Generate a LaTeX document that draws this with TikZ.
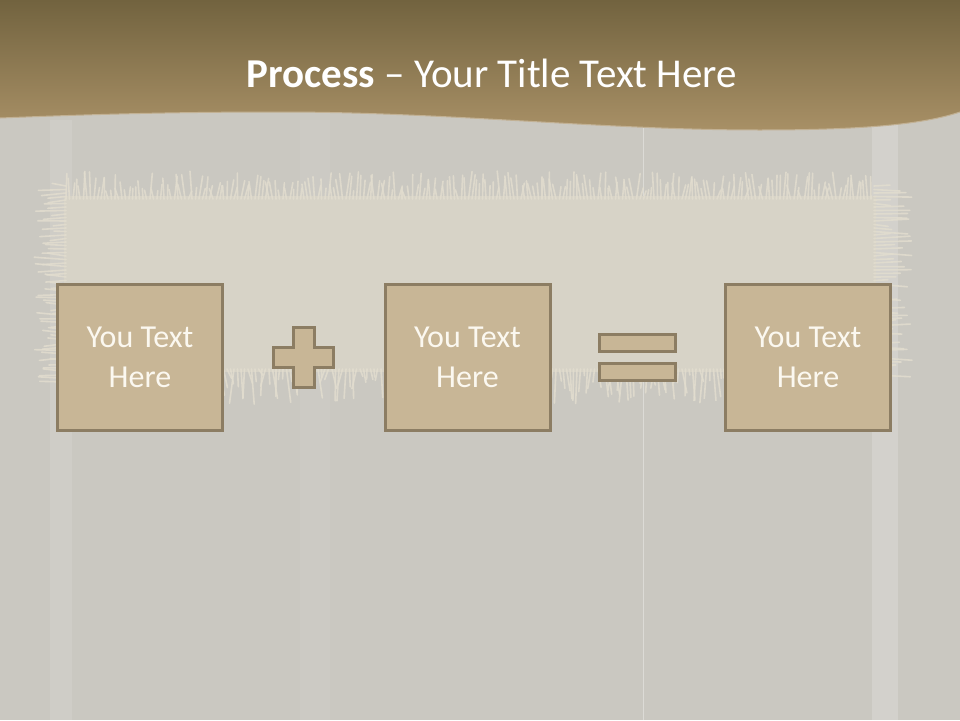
\documentclass[tikz,border=0pt]{standalone}
\usepackage{fontspec}
\setmainfont{Carlito}
\usepackage{tikz}
\usetikzlibrary{calc}

\definecolor{woodgrey}{HTML}{CAC8C1}
\definecolor{burlap}{HTML}{D7D3C7}
\definecolor{thread}{HTML}{E2DDCF}
\definecolor{bandtop}{HTML}{72633F}
\definecolor{bandbot}{HTML}{A89066}
\definecolor{tan}{HTML}{C8B696}
\definecolor{tanedge}{HTML}{8C7D63}
\definecolor{paper}{HTML}{FBF8F0}

\tikzset{
  textbox/.style={draw=tanedge, fill=tan, line width=3pt, minimum width=165pt,
    minimum height=146pt, inner sep=0pt, align=center, text=paper,
    font=\fontsize{32}{40}\selectfont},
  sign/.style={draw=tanedge, fill=tan, line width=3pt},
  eqbar/.style={sign, minimum width=76pt, minimum height=17pt, inner sep=0pt},
  fringe/.style={draw=thread, line width=1.6pt, line cap=round, opacity=0.85}
}

\begin{document}
\begin{tikzpicture}[x=1pt, y=-1pt]
        \useasboundingbox (0,0) rectangle (960,720);
        \pgfmathsetseed{7}

        % Wood background
        \fill[woodgrey] (0,0) rectangle (960,720);
        \fill[white, opacity=0.10] (50,120) rectangle (72,720);
        \fill[white, opacity=0.18] (872,120) rectangle (898,720);
        \fill[white, opacity=0.05] (300,120) rectangle (330,720);
        \draw[white, opacity=0.35, line width=0.8pt] (643,120) -- (643,720);

        % Burlap strip
        \fill[burlap] (64,196) rectangle (876,372);
        \foreach \x in {66,69.5,...,874}{
          \pgfmathsetmacro{\len}{8+20*rnd}
          \draw[fringe] (\x,199) -- ++(rand*4,-\len);
          \pgfmathsetmacro{\len}{6+30*rnd}
          \draw[fringe] (\x,369) -- ++(rand*5,\len);
        }
        \foreach \y in {186,189.5,...,382}{
          \pgfmathsetmacro{\len}{12+20*rnd}
          \draw[fringe] (66,\y) -- ++(-\len,rand*3);
          \pgfmathsetmacro{\len}{12+26*rnd}
          \draw[fringe] (874,\y) -- ++(\len,rand*3);
        }

        % Title band
        \shade[top color=bandtop, bottom color=bandbot]
          (0,0) -- (960,0) -- (960,112)
          .. controls (930,122) and (880,130) .. (760,130)
          .. controls (600,130) and (450,112) .. (280,112)
          .. controls (180,112) and (100,114) .. (0,118) -- cycle;
        \draw[bandbot!70!white, line width=1pt] (960,112)
          .. controls (930,122) and (880,130) .. (760,130)
          .. controls (600,130) and (450,112) .. (280,112)
          .. controls (180,112) and (100,114) .. (0,118);
        \node[anchor=base, text=white, font=\fontsize{41}{49}\selectfont, inner sep=0pt]
          (title) at (492,87) {\textbf{Process} – Your Title Text Here};

        % Process boxes
        \node[textbox] (box1) at (140,357.5) {You Text\\Here};
        \node[textbox] (box2) at (467.5,357.5) {You Text\\Here};
        \node[textbox] (box3) at (808,357.5) {You Text\\Here};

        % Plus sign
        \coordinate (plus) at ($(box1.east)!0.5!(box2.west)$);
        \begin{scope}[shift={(plus)}]
          \draw[sign] (-10.5,-30) -- (10.5,-30) -- (10.5,-10) -- (30,-10) -- (30,10)
            -- (10.5,10) -- (10.5,30) -- (-10.5,30) -- (-10.5,10) -- (-30,10)
            -- (-30,-10) -- (-10.5,-10) -- cycle;
        \end{scope}

        % Equals sign
        \coordinate (equals) at ($(box2.east)!0.5!(box3.west)$);
        \node[eqbar] (eqtop) at ($(equals)+(0,-15)$) {};
        \node[eqbar] (eqbot) at ($(equals)+(0,14.5)$) {};
    \end{tikzpicture}
\end{document}
